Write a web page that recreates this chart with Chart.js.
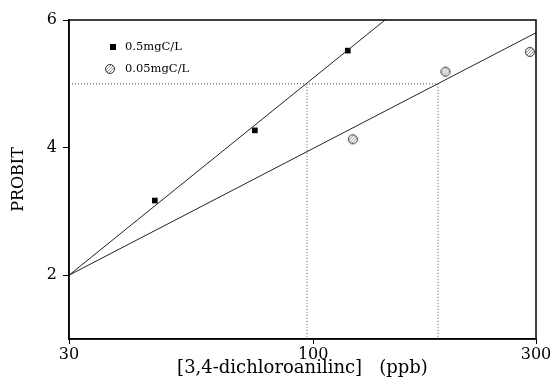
<!DOCTYPE html>
<html>
<head>
<meta charset="utf-8">
<script src="https://cdn.jsdelivr.net/npm/chart.js@4"></script>
<style>html,body{margin:0;background:#fff}</style>
</head>
<body>
<canvas id="c" width="553" height="389"></canvas>
<script>
// tick labels
const xTicks = [30, 100, 300];
const yTicks = [2, 4, 6];

// measured points
const highLabel = '0.5mgC/L';
const highX = [45.8, 75, 118.6];
const highY = [3.17, 4.27, 5.52];
const lowLabel = '0.05mgC/L';
const lowX = [121.6, 192, 291];
const lowY = [4.13, 5.19, 5.5];

// fitted lines (end points)
const highFitX = [30, 142.5];
const highFitY = [2, 6];
const lowFitX = [30, 300];
const lowFitY = [2, 5.8];

// probit 5 read-offs
const refY = 5;
const refX = [97, 185];

const FONT = '"DejaVu Serif", serif';
const pts = (xs, ys) => xs.map((x, i) => ({ x: x, y: ys[i] }));

// hatched open circle marker
const circ = document.createElement('canvas');
circ.width = 12; circ.height = 12;
(function () {
  const g = circ.getContext('2d');
  g.fillStyle = '#fff';
  g.beginPath(); g.arc(6, 6, 4.5, 0, Math.PI * 2); g.fill();
  g.save(); g.clip();
  g.strokeStyle = '#777'; g.lineWidth = 0.8;
  for (let k = -12; k < 12; k += 3) { g.beginPath(); g.moveTo(k, 12); g.lineTo(k + 12, 0); g.stroke(); }
  g.restore();
  g.strokeStyle = '#333'; g.lineWidth = 1;
  g.beginPath(); g.arc(6, 6, 4.5, 0, Math.PI * 2); g.stroke();
})();

const dotted = { type: 'line', borderColor: '#555', borderWidth: 1, borderDash: [1, 2], pointRadius: 0, fill: false };
const solid = { type: 'line', borderColor: '#222', borderWidth: 1, pointRadius: 0, fill: false };

const boxPlugin = {
  id: 'box',
  afterDraw(chart) {
    const a = chart.chartArea, ctx = chart.ctx;
    ctx.save();
    ctx.strokeStyle = '#000'; ctx.lineWidth = 1.5;
    ctx.strokeRect(a.left, a.top, a.right - a.left, a.bottom - a.top);
    // legend
    ctx.font = '11.5px ' + FONT;
    ctx.fillStyle = '#000';
    ctx.textBaseline = 'middle';
    ctx.fillRect(110, 44, 6, 6);
    ctx.fillText(highLabel, 125, 47);
    ctx.drawImage(circ, 104, 63);
    ctx.fillText(lowLabel, 125, 69);
    ctx.restore();
  }
};

new Chart(document.getElementById('c'), {
  type: 'scatter',
  data: {
    datasets: [
      Object.assign({ data: [{ x: 30, y: refY }, { x: refX[1], y: refY }] }, dotted),
      Object.assign({ data: [{ x: refX[0], y: refY }, { x: refX[0], y: 1 }] }, dotted),
      Object.assign({ data: [{ x: refX[1], y: refY }, { x: refX[1], y: 1 }] }, dotted),
      Object.assign({ data: pts(highFitX, highFitY) }, solid),
      Object.assign({ data: pts(lowFitX, lowFitY) }, solid),
      { label: highLabel, data: pts(highX, highY), pointStyle: 'rect', pointRadius: 4,
        backgroundColor: '#000', borderColor: '#000', borderWidth: 0 },
      { label: lowLabel, data: pts(lowX, lowY), pointStyle: circ }
    ]
  },
  options: {
    responsive: false,
    animation: false,
    devicePixelRatio: 1,
    layout: { padding: { top: 20, right: 17, left: 0, bottom: 0 } },
    plugins: { legend: { display: false }, tooltip: { enabled: false } },
    scales: {
      x: {
        type: 'logarithmic', min: 30, max: 300,
        afterBuildTicks: s => { s.ticks = xTicks.map(v => ({ value: v })); },
        afterFit: s => { s.height = 50; },
        ticks: { color: '#000', font: { family: FONT, size: 16 },
          padding: 1, maxRotation: 0, callback: v => String(v) },
        grid: { drawOnChartArea: false, tickLength: 5, color: '#000' },
        border: { color: '#000', width: 1.5 },
        title: { display: true, text: '[3,4-dichloroanilinc]   (ppb)', color: '#000',
          font: { family: FONT, size: 18 }, padding: { top: 0, bottom: 10 } }
      },
      y: {
        min: 1, max: 6,
        afterBuildTicks: s => { s.ticks = yTicks.map(v => ({ value: v })); },
        afterFit: s => { s.width = 69; },
        ticks: { color: '#000', font: { family: FONT, size: 16 }, padding: 6 },
        grid: { drawOnChartArea: false, tickLength: 6, color: '#000' },
        border: { color: '#000', width: 1.5 },
        title: { display: true, text: 'PROBIT', color: '#000',
          font: { family: FONT, size: 16 }, padding: { top: 9, bottom: 0 } }
      }
    }
  },
  plugins: [boxPlugin]
});
</script>
</body>
</html>
